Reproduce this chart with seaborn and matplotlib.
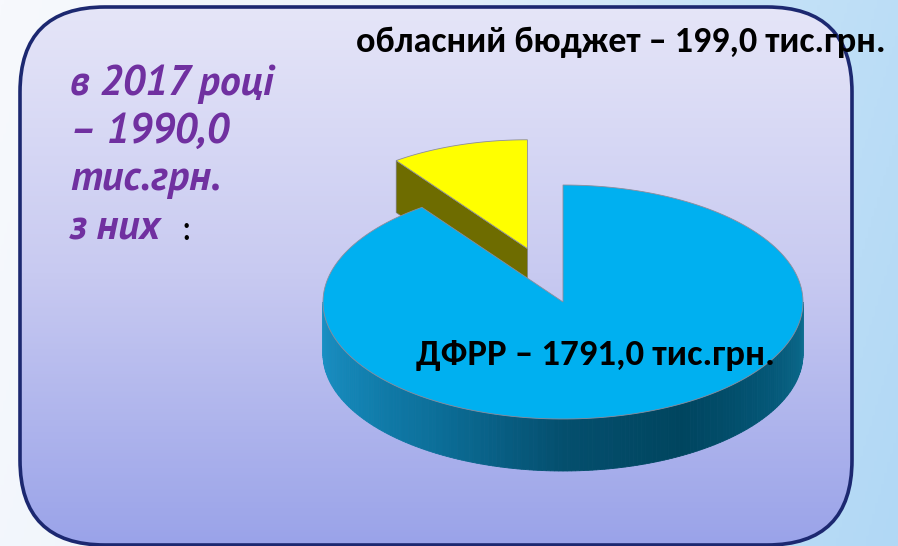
import numpy as np
import matplotlib.pyplot as plt
import seaborn as sns
from matplotlib.patches import Polygon, FancyBboxPatch
from matplotlib.colors import LinearSegmentedColormap

# data
categories = ["обласний бюджет", "ДФРР"]
values = [199.0, 1791.0]
year = 2017
unit = "тис.грн."
top_colors = ["#ffff00", "#00b0f0"]
cut_colors = ["#6e6c00", "#0a6f98"]
explode = [0.48, 0.0]

sns.set_style("white")
plt.rcParams['font.family'] = ['Carlito', 'DejaVu Sans']

def fmt(v):
    return f"{v:.1f}".replace('.', ',')

W, H = 898, 546
fig = plt.figure(figsize=(W / 100, H / 100), dpi=100)
ax = fig.add_axes([0, 0, 1, 1])
ax.set_xlim(0, W)
ax.set_ylim(H, 0)
ax.axis('off')

# outer background: pale on the left, light blue on the right
X, Y = np.meshgrid(np.linspace(0, 1, 300), np.linspace(0, 1, 200))
outer_cmap = LinearSegmentedColormap.from_list(
    'outer', ['#f7f9fd', '#eef4fb', '#c9e4f8', '#b1d8f5'])
ax.imshow(np.clip(X * 0.85 + Y * 0.15, 0, 1), cmap=outer_cmap,
          extent=(0, W, H, 0), aspect='auto', zorder=0)

# rounded panel with vertical gradient
box = FancyBboxPatch((20, 7), 832, 538, boxstyle="round,pad=0,rounding_size=85",
                     facecolor='none', edgecolor='#1c2870', lw=2.6, zorder=3)
ax.add_patch(box)
inner_cmap = LinearSegmentedColormap.from_list(
    'inner', ['#e6e6f8', '#c8caf1', '#9aa3e9'])
grad = ax.imshow(Y, cmap=inner_cmap, extent=(0, W, H, 0), aspect='auto', zorder=1)
grad.set_clip_path(box)

# 3d pie
cx, cy, a, b, depth = 563, 302, 240, 117, 52
side_pal = sns.blend_palette(['#1b92c6', '#1383b3', '#0b6d97', '#044f6e',
                              '#00455f', '#045777', '#0c6c8e'], n_colors=90)


def proj(theta, r=1.0, ox=0.0, oy=0.0):
    t = np.radians(theta)
    return cx + ox + r * a * np.cos(t), cy + oy - r * b * np.sin(t)


fracs = np.array(values) / np.sum(values)
start = 90.0
slices = []
for i, f in enumerate(fracs):
    slices.append((start, start + 360 * f, i))
    start += 360 * f

for t1, t2, i in slices:
    mid = np.radians((t1 + t2) / 2)
    ox = explode[i] * a * np.cos(mid)
    oy = -explode[i] * b * np.sin(mid)
    r = 0.93 if explode[i] > 0 else 1.0
    c0 = (cx + ox, cy + oy)

    # radial cut faces
    for th, normal in ((t1, t1 - 90), (t2, t2 + 90)):
        if np.sin(np.radians(normal)) < -1e-6:
            p = proj(th, r, ox, oy)
            face = [c0, p, (p[0], p[1] + depth), (c0[0], c0[1] + depth)]
            ax.add_patch(Polygon(face, closed=True, facecolor=cut_colors[i],
                                 edgecolor='#7a7a7a', lw=0.5, zorder=5 + 2 * i))

    # front side wall
    ths = np.arange(t1, t2 + 0.01, 1.0)
    for k in range(len(ths) - 1):
        ta, tb = ths[k], ths[k + 1]
        if np.sin(np.radians((ta + tb) / 2)) >= 0:
            continue
        pa, pb = proj(ta, r, ox, oy), proj(tb, r, ox, oy)
        idx = int(((ta % 360) - 180) / 2) % 90
        col = side_pal[idx] if i == 1 else cut_colors[i]
        ax.add_patch(Polygon([pa, pb, (pb[0], pb[1] + depth), (pa[0], pa[1] + depth)],
                             closed=True, facecolor=col, edgecolor=col, lw=0.6,
                             zorder=5 + 2 * i))

    # top surface
    arc = np.linspace(t1, t2, 200)
    pts = [c0] + [proj(t, r, ox, oy) for t in arc]
    ax.add_patch(Polygon(pts, closed=True, facecolor=top_colors[i],
                         edgecolor='#8c8c9c', lw=0.6, zorder=6 + 2 * i))

# texts
purple = '#7030a0'
left_lines = [(f"в {year} році", 95), (f"– {fmt(sum(values))}", 143),
              (unit, 190), ("з них", 240)]
for txt, yb in left_lines:
    ax.text(70, yb, txt, color=purple, fontsize=30, fontweight='bold',
            fontstyle='italic', va='baseline', zorder=10,
            family=['PT Sans', 'DejaVu Sans'])
ax.text(181, 240, ":", color='black', fontsize=26, va='baseline', zorder=10)

ax.text(356, 52, f"{categories[0]} – {fmt(values[0])} {unit}", color='black',
        fontsize=26, fontweight='bold', va='baseline', zorder=10)
ax.text(416, 365, f"{categories[1]} – {fmt(values[1])} {unit}", color='black',
        fontsize=26.5, fontweight='bold', va='baseline', zorder=10)

fig.savefig('out.png', dpi=100)
